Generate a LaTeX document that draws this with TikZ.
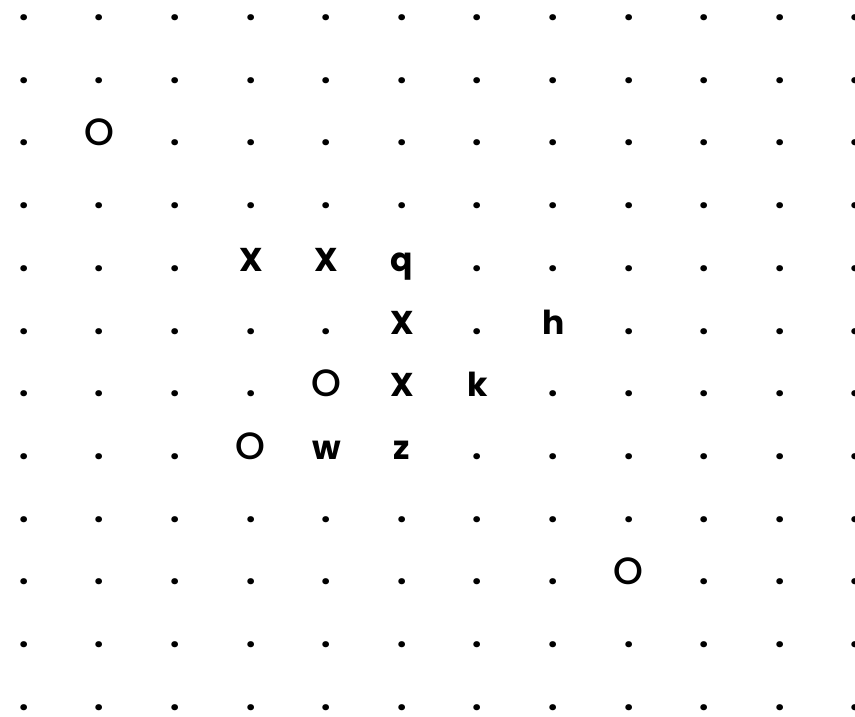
\documentclass[tikz,border=0pt]{standalone}
\usepackage{fontspec}
\setmainfont{Poppins}
\newfontfamily\oface{Poppins Medium}
\tikzset{cell/.style={anchor=base,inner sep=0pt,font=\fontsize{33}{33}\selectfont\bfseries}}
\newcommand{\bigO}{{\oface\mdseries\fontsize{38}{38}\selectfont O}}
\expandafter\def\csname cell-1-2\endcsname{\bigO}
\expandafter\def\csname cell-3-4\endcsname{X}
\expandafter\def\csname cell-4-4\endcsname{X}
\expandafter\def\csname cell-5-4\endcsname{q}
\expandafter\def\csname cell-5-5\endcsname{X}
\expandafter\def\csname cell-7-5\endcsname{h}
\expandafter\def\csname cell-4-6\endcsname{\bigO}
\expandafter\def\csname cell-5-6\endcsname{X}
\expandafter\def\csname cell-6-6\endcsname{k}
\expandafter\def\csname cell-3-7\endcsname{\bigO}
\expandafter\def\csname cell-4-7\endcsname{w}
\expandafter\def\csname cell-5-7\endcsname{z}
\expandafter\def\csname cell-8-9\endcsname{\bigO}
\begin{document}
\begin{tikzpicture}[x=1pt,y=-1pt]
\useasboundingbox (0,0) rectangle (855,717);
\foreach \j in {0,...,11}{
  \foreach \i in {0,...,11}{
    \ifcsname cell-\i-\j\endcsname
      \expandafter\let\expandafter\ch\csname cell-\i-\j\endcsname
    \else
      \def\ch{.}%
    \fi
    \node[cell] (c-\i-\j) at ({24+75.6*\i},{20.5+62.7*\j}) {\ch};
  }
}
\end{tikzpicture}
\end{document}
